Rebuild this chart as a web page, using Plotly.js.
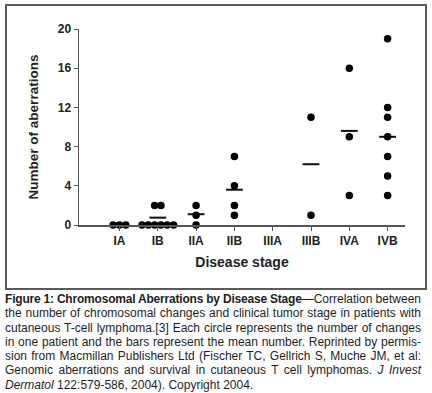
<!DOCTYPE html>
<html>
<head>
<meta charset="utf-8">
<script src="https://cdn.plot.ly/plotly-3.0.1.min.js"></script>
<style>
  html, body { margin:0; padding:0; background:#fff; }
  #wrap { position:relative; width:432px; height:393px; overflow:hidden; }
  #chart { position:absolute; left:0; top:0; width:432px; height:393px; }
  #frame { position:absolute; left:5px; top:4px; width:422px; height:286px; box-sizing:border-box; border:2px solid #5a5a5a; pointer-events:none; }
  #caption { position:absolute; left:5px; top:292px; width:416px; font-family:"Liberation Sans", Arial, sans-serif; font-size:12px; line-height:14.3px; color:#1e1e1e; }
  #caption div { white-space:nowrap; }
  #caption b { font-weight:bold; letter-spacing:-0.2px; }
</style>
</head>
<body>
<div id="wrap">
  <div id="chart"></div>
  <div id="frame"></div>
  <div id="caption">
    <div class="j"><span><b>Figure 1: Chromosomal Aberrations by Disease Stage</b>—Correlation between</span></div>
    <div class="j"><span>the number of chromosomal changes and clinical tumor stage in patients with</span></div>
    <div class="j"><span>cutaneous T-cell lymphoma.[3] Each circle represents the number of changes</span></div>
    <div class="j"><span>in one patient and the bars represent the mean number. Reprinted by permis-</span></div>
    <div class="j"><span>sion from Macmillan Publishers Ltd (Fischer TC, Gellrich S, Muche JM, et al:</span></div>
    <div class="j"><span>Genomic aberrations and survival in cutaneous T cell lymphomas. <i>J Invest</i></span></div>
    <div><span><i>Dermatol</i> 122:579-586, 2004). Copyright 2004.</span></div>
  </div>
</div>
<script>
// ---- data ----
const categories = ['IA', 'IB', 'IIA', 'IIB', 'IIIA', 'IIIB', 'IVA', 'IVB'];
const aberrationsIA   = [0, 0, 0];
const aberrationsIB   = [0, 0, 0, 0, 0, 0, 2, 2];
const aberrationsIIA  = [2, 1, 0];
const aberrationsIIB  = [7, 4, 2, 1];
const aberrationsIIIA = [];
const aberrationsIIIB = [11, 1];
const aberrationsIVA  = [16, 9, 3];
const aberrationsIVB  = [19, 12, 11, 9, 7, 5, 3];
const meanBars = [0, 0.75, 1.1, 3.6, null, 6.2, 9.6, 9.0];
const yTicks = [0, 4, 8, 12, 16, 20];

const groups = [aberrationsIA, aberrationsIB, aberrationsIIA, aberrationsIIB,
                aberrationsIIIA, aberrationsIIIB, aberrationsIVA, aberrationsIVB];

// scatter-dot layout: equal values in a column are spread side by side
const dotStep = 0.165;
const px = [], py = [];
groups.forEach((vals, ci) => {
  const counts = {};
  vals.forEach(v => { counts[v] = (counts[v] || 0) + 1; });
  const seen = {};
  vals.forEach(v => {
    const n = counts[v];
    const i = seen[v] || 0;
    seen[v] = i + 1;
    px.push(ci + (i - (n - 1) / 2) * dotStep);
    py.push(v);
  });
});

const mx = [], my = [];
meanBars.forEach((m, ci) => { if (m !== null) { mx.push(ci); my.push(m); } });

const font = "Liberation Sans, Arial, sans-serif";

const traces = [
  {
    type: 'scatter', mode: 'markers', x: mx, y: my, cliponaxis: false,
    marker: { symbol: 'line-ew', size: 12, line: { color: '#111', width: 2 } },
    hoverinfo: 'skip', showlegend: false
  },
  {
    type: 'scatter', mode: 'markers', x: px, y: py, cliponaxis: false,
    marker: { symbol: 'circle', size: 7.5, color: '#000', line: { width: 0 } },
    showlegend: false
  }
];

const layout = {
  width: 432, height: 393,
  margin: { l: 79, r: 27, t: 29, b: 168 },
  paper_bgcolor: 'rgba(0,0,0,0)', plot_bgcolor: 'rgba(0,0,0,0)',
  showlegend: false,
  font: { family: font, color: '#222' },
  xaxis: {
    type: 'linear', range: [-1.057, 7.454],
    tickvals: categories.map((c, i) => i), ticktext: categories,
    showgrid: false, zeroline: false,
    showline: true, linecolor: '#555', linewidth: 1.5,
    ticks: 'outside', ticklen: 4, tickwidth: 1, tickcolor: '#555',
    tickfont: { family: font, size: 12, color: '#222', weight: 'bold' },
    title: { text: 'Disease stage', standoff: 10, font: { family: font, size: 14, color: '#222', weight: 'bold' } },
    fixedrange: true
  },
  yaxis: {
    range: [0, 20], tickvals: yTicks, ticktext: yTicks.map(String),
    showgrid: false, zeroline: false,
    showline: true, linecolor: '#555', linewidth: 1.5,
    ticks: 'outside', ticklen: 4, tickwidth: 1, tickcolor: '#555',
    tickfont: { family: font, size: 12, color: '#222', weight: 'bold' },
    title: { text: 'Number of aberrations', standoff: 16, font: { family: font, size: 13.5, color: '#222', weight: 'bold' } },
    fixedrange: true
  }
};

Plotly.newPlot('chart', traces, layout, { displayModeBar: false, staticPlot: true });

// justify caption lines exactly to the column width (word-spacing may shrink or grow)
const colW = 416;
document.querySelectorAll('#caption .j').forEach(line => {
  const span = line.querySelector('span');
  const natural = span.getBoundingClientRect().width;
  const spaces = (span.textContent.match(/ /g) || []).length;
  if (spaces > 0) line.style.wordSpacing = ((colW - natural) / spaces) + 'px';
});
</script>
</body>
</html>
